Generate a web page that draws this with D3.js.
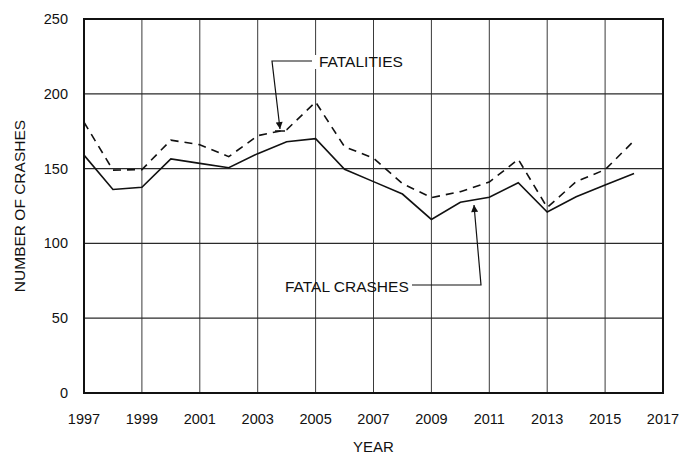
<!DOCTYPE html>
<html>
<head>
<meta charset="utf-8">
<script src="https://cdn.jsdelivr.net/npm/d3@7"></script>
<style>
  body { margin: 0; background: #fff; }
  text { font-family: "Liberation Sans", Arial, sans-serif; fill: #111; }
</style>
</head>
<body>
<svg id="chart" width="682" height="454"></svg>
<script>
const years = d3.range(1997, 2017);
const fatalCrashes = [159, 136, 137.5, 156.5, 153.5, 150.6, 160, 168, 170, 149.5, 141.3, 133, 116, 127.5, 130.8, 140.6, 121, 131.2, 139, 146.8];
const fatalities = [181, 149, 149.3, 169, 166, 158, 172, 176, 194.5, 164.6, 157, 140, 130.6, 134.6, 141, 156.2, 124, 141.3, 149.3, 168.6];
const xTicks = d3.range(1997, 2018, 2);
const yTicks = [0, 50, 100, 150, 200, 250];

const svg = d3.select("#chart");
const plotLeft = 84, plotRight = 663, plotTop = 19, plotBottom = 393;

var x = d3.scaleLinear().domain([1997, 2017]).range([plotLeft, plotRight]);
var y = d3.scaleLinear().domain([0, 250]).range([plotBottom, plotTop]);

// grid
svg.append("g").selectAll("line")
    .data(xTicks.slice(1, -1))
    .enter().append("line")
    .attr("x1", d => x(d)).attr("x2", d => x(d))
    .attr("y1", plotTop).attr("y2", plotBottom)
    .style("stroke", "#3a3a3a").style("stroke-width", 1);

svg.append("g").selectAll("line")
    .data(yTicks.slice(1, -1))
    .enter().append("line")
    .attr("x1", plotLeft).attr("x2", plotRight)
    .attr("y1", d => y(d)).attr("y2", d => y(d))
    .style("stroke", "#2a2a2a").style("stroke-width", 1.2);

svg.append("rect")
    .attr("x", plotLeft).attr("y", plotTop)
    .attr("width", plotRight - plotLeft).attr("height", plotBottom - plotTop)
    .style("fill", "none").style("stroke", "#111").style("stroke-width", 2);

// tick labels
svg.append("g").selectAll("text")
    .data(xTicks)
    .enter().append("text")
    .attr("x", d => x(d)).attr("y", 419)
    .attr("dy", "0.35em")
    .attr("text-anchor", "middle")
    .style("font-size", "14.5px")
    .text(d => d);

svg.append("g").selectAll("text")
    .data(yTicks)
    .enter().append("text")
    .attr("x", 68).attr("y", d => y(d))
    .attr("dy", "0.35em")
    .attr("text-anchor", "end")
    .style("font-size", "14.5px")
    .text(d => d);

svg.append("text")
    .attr("x", (plotLeft + plotRight) / 2).attr("y", 447)
    .attr("dy", "0.35em")
    .attr("text-anchor", "middle")
    .style("font-size", "15px")
    .text("YEAR");

svg.append("text")
    .attr("transform", `translate(20, ${(plotTop + plotBottom) / 2}) rotate(-90)`)
    .attr("dy", "0.35em")
    .attr("text-anchor", "middle")
    .style("font-size", "15.5px")
    .text("NUMBER OF CRASHES");

// series
const line = d3.line().x((d, i) => x(years[i])).y(d => y(d));

svg.append("path")
    .datum(fatalCrashes)
    .attr("d", line)
    .style("fill", "none").style("stroke", "#111").style("stroke-width", 1.6);

svg.append("path")
    .datum(fatalities)
    .attr("d", line)
    .style("fill", "none").style("stroke", "#111").style("stroke-width", 1.6)
    .style("stroke-dasharray", "8,6");

// annotations
svg.append("defs").append("marker")
    .attr("id", "arrow")
    .attr("viewBox", "0 0 10 10")
    .attr("refX", 10).attr("refY", 5)
    .attr("markerWidth", 10).attr("markerHeight", 7)
    .attr("markerUnits", "userSpaceOnUse")
    .attr("orient", "auto")
    .append("path")
    .attr("d", "M0,0L10,5L0,10Z")
    .style("fill", "#111");

const ann = svg.append("g");

ann.append("rect")
    .attr("x", 310).attr("y", 55).attr("width", 10).attr("height", 14)
    .style("fill", "#fff");
ann.append("text")
    .attr("x", 319).attr("y", 62).attr("dy", "0.35em")
    .style("font-size", "15.5px")
    .text("FATALITIES");
ann.append("path")
    .attr("d", "M312,61H272L280,129")
    .style("fill", "none").style("stroke", "#111").style("stroke-width", 1.2)
    .attr("marker-end", "url(#arrow)");
ann.append("line")
    .attr("x1", 275).attr("x2", 285).attr("y1", 131).attr("y2", 131)
    .style("stroke", "#111").style("stroke-width", 1.5);

ann.append("text")
    .attr("x", 285).attr("y", 287).attr("dy", "0.35em")
    .style("font-size", "15.5px")
    .text("FATAL CRASHES");
ann.append("path")
    .attr("d", "M412,285H481L474,205")
    .style("fill", "none").style("stroke", "#111").style("stroke-width", 1.2)
    .attr("marker-end", "url(#arrow)");
</script>
</body>
</html>
